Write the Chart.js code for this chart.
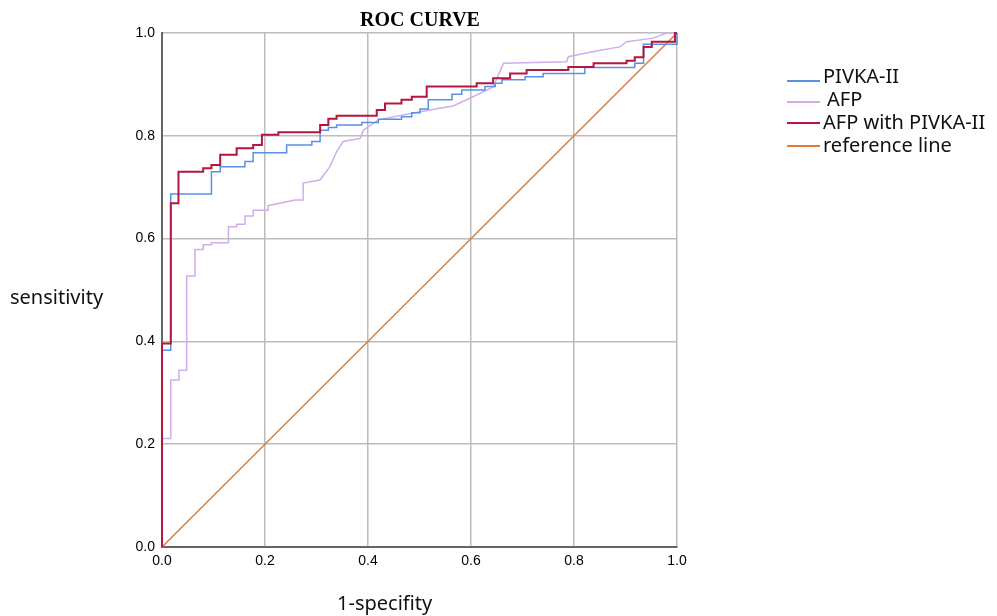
<!DOCTYPE html>
<html>
<head>
<meta charset="utf-8">
<script src="https://cdn.jsdelivr.net/npm/chart.js@4"></script>
<style>
  body { margin: 0; background: #fff; }
  #wrap { position: relative; width: 997px; height: 616px; }
  .txt { position: absolute; font-family: "Noto Sans", sans-serif; color: #111; white-space: nowrap; }
  #title { left: 320px; width: 200px; top: 8px; text-align: center; font: bold 20px "Liberation Serif", serif; position: absolute; }
  .leg { position: absolute; left: 787px; height: 0; border-top: 2px solid; width: 33px; }
</style>
</head>
<body>
<div id="wrap">
  <canvas id="roc" width="997" height="616"></canvas>
  <div id="title">ROC CURVE</div>
  <div class="txt" style="left:10px; top:283px; font-size:20px;">sensitivity</div>
  <div class="txt" style="left:337px; top:589px; font-size:20px;">1-specifity</div>

  <div class="leg" style="top:80px; border-color:#5b8fe6;"></div>
  <div class="txt" style="left:823px; top:62px; font-size:20px;">PIVKA-II</div>
  <div class="leg" style="top:101px; border-color:#cfaeea;"></div>
  <div class="txt" style="left:827px; top:85px; font-size:20px;">AFP</div>
  <div class="leg" style="top:122px; border-color:#b5163f;"></div>
  <div class="txt" style="left:823px; top:108px; font-size:20px;">AFP with PIVKA-II</div>
  <div class="leg" style="top:145px; border-color:#e07b39;"></div>
  <div class="txt" style="left:823px; top:131px; font-size:20px;">reference line</div>
</div>
<script>
// ROC points: [1-specificity, sensitivity]
const pivka = [
  [0, 0], [0, 0.383], [0.017, 0.687], [0.096, 0.730], [0.113, 0.740], [0.161, 0.750],
  [0.177, 0.767], [0.242, 0.782], [0.291, 0.789], [0.307, 0.811], [0.323, 0.816],
  [0.339, 0.821], [0.388, 0.826], [0.420, 0.832], [0.465, 0.837], [0.485, 0.845],
  [0.501, 0.852], [0.517, 0.870], [0.563, 0.881], [0.582, 0.889], [0.627, 0.896],
  [0.647, 0.902], [0.660, 0.909], [0.705, 0.915], [0.740, 0.921], [0.821, 0.933],
  [0.918, 0.941], [0.935, 0.978], [1, 0.978], [1, 1]
];
const afp = [
  [0, 0], [0, 0.211], [0.017, 0.211], [0.017, 0.325], [0.033, 0.325], [0.033, 0.344],
  [0.048, 0.344], [0.048, 0.527], [0.064, 0.527], [0.064, 0.579], [0.080, 0.579],
  [0.080, 0.588], [0.096, 0.588], [0.096, 0.592], [0.129, 0.592], [0.129, 0.623],
  [0.145, 0.623], [0.145, 0.628], [0.161, 0.628], [0.161, 0.644], [0.177, 0.644],
  [0.177, 0.655], [0.206, 0.655], [0.206, 0.664], [0.258, 0.675], [0.274, 0.675],
  [0.274, 0.708], [0.307, 0.714], [0.326, 0.740], [0.339, 0.769], [0.352, 0.789],
  [0.385, 0.795], [0.391, 0.811], [0.420, 0.831], [0.465, 0.840], [0.520, 0.850],
  [0.565, 0.858], [0.598, 0.873], [0.643, 0.895], [0.663, 0.941], [0.786, 0.944],
  [0.789, 0.954], [0.838, 0.964], [0.889, 0.973], [0.902, 0.983], [0.954, 0.990],
  [0.980, 1.0], [1, 1]
];
const combined = [
  [0, 0], [0, 0.396], [0.017, 0.669], [0.032, 0.730], [0.080, 0.737], [0.096, 0.743],
  [0.113, 0.763], [0.145, 0.776], [0.177, 0.782], [0.194, 0.802], [0.226, 0.807],
  [0.307, 0.821], [0.323, 0.833], [0.339, 0.839], [0.417, 0.850], [0.433, 0.863],
  [0.465, 0.870], [0.485, 0.876], [0.514, 0.896], [0.611, 0.902], [0.643, 0.912],
  [0.676, 0.921], [0.708, 0.928], [0.789, 0.934], [0.838, 0.941], [0.902, 0.946],
  [0.918, 0.953], [0.935, 0.973], [0.951, 0.983], [0.996, 1.0], [1, 1]
];
const reference = [[0, 0], [1, 1]];
const ticks = [0, 0.2, 0.4, 0.6, 0.8, 1.0];

const toXY = arr => arr.map(p => ({ x: p[0], y: p[1] }));

const axis = {
  type: 'linear',
  min: 0,
  max: 1,
  afterBuildTicks: s => { s.ticks = ticks.map(v => ({ value: v })); },
  grid: { color: '#bcbcbc', lineWidth: 1.5, drawTicks: false },
  border: { color: '#666', width: 2 },
  ticks: {
    color: '#000',
    font: { family: 'Liberation Sans', size: 14 },
    callback: v => v.toFixed(1),
    padding: 6
  }
};

// first dataset is painted on top
new Chart(document.getElementById('roc'), {
  type: 'scatter',
  data: {
    datasets: [
      { label: 'AFP with PIVKA-II', data: toXY(combined), borderColor: '#b5163f', borderWidth: 2, stepped: 'before' },
      { label: 'PIVKA-II', data: toXY(pivka), borderColor: '#5b8fe6', borderWidth: 1.5, stepped: 'before' },
      { label: 'AFP', data: toXY(afp), borderColor: '#cfaeea', borderWidth: 1.5 },
      { label: 'reference line', data: toXY(reference), borderColor: '#e07b39', borderWidth: 1.5 }
    ].map(d => Object.assign(d, { showLine: true, pointRadius: 0, fill: false, clip: 3 }))
  },
  options: {
    responsive: false,
    animation: false,
    layout: { padding: { top: 33, right: 320, left: 0, bottom: 0 } },
    plugins: { legend: { display: false }, tooltip: { enabled: false } },
    scales: {
      x: Object.assign({}, axis, { afterFit: s => { s.height = 69; } }),
      y: Object.assign({}, axis, { afterFit: s => { s.width = 162; }, ticks: Object.assign({}, axis.ticks, { padding: 7 }) })
    }
  }
});
</script>
</body>
</html>
